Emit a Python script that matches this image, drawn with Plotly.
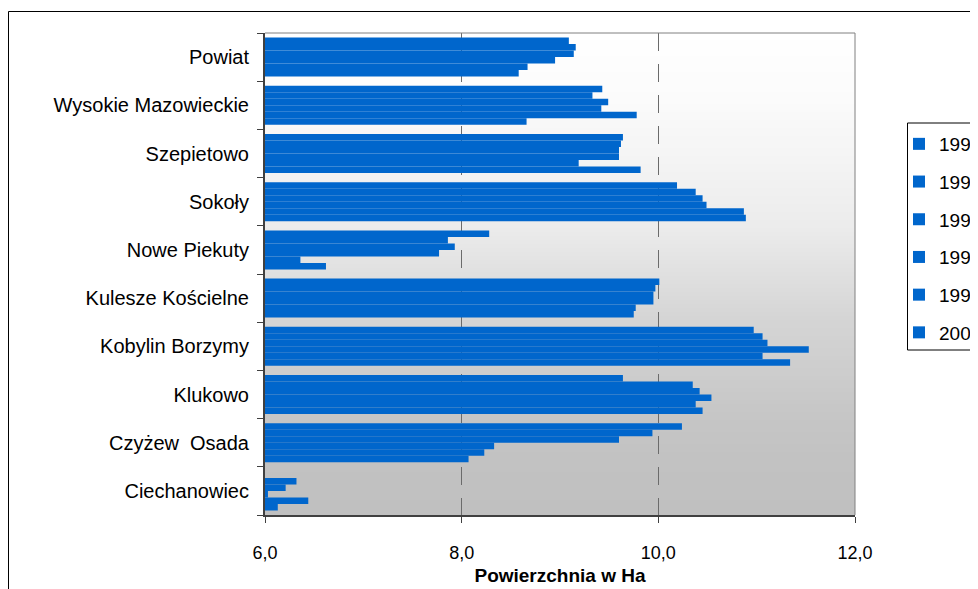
import plotly.graph_objects as go

categories = ["Ciechanowiec", "Czyżew  Osada", "Klukowo", "Kobylin Borzymy", "Kulesze Kościelne",
              "Nowe Piekuty", "Sokoły", "Szepietowo", "Wysokie Mazowieckie", "Powiat"]
years = ["1990", "1992", "1994", "1996", "1998", "2000"]

v1990 = [6.13, 8.07, 10.45, 11.34, 9.75, 6.62, 10.89, 9.82, 8.66, 8.58]
v1992 = [6.44, 8.23, 10.38, 11.06, 9.77, 6.36, 10.87, 9.19, 9.78, 8.67]
v1994 = [6.03, 8.33, 10.54, 11.53, 9.95, 7.77, 10.49, 9.60, 9.42, 8.95]
v1996 = [6.21, 9.60, 10.42, 11.11, 9.95, 7.93, 10.45, 9.60, 9.49, 9.14]
v1998 = [6.32, 9.94, 10.35, 11.06, 9.97, 7.86, 10.38, 9.62, 9.33, 9.16]
v2000 = [5.90, 10.24, 9.64, 10.97, 10.01, 8.28, 10.19, 9.64, 9.43, 9.09]
series = [v1990, v1992, v1994, v1996, v1998, v2000]

x_ticks = [6, 8, 10, 12]
x_ticklabels = ["6,0", "8,0", "10,0", "12,0"]

BAR = "#0066cc"
FONT = "Liberation Sans, Arial, sans-serif"

fig = go.Figure()
for yr, vals in zip(years, series):
    fig.add_trace(go.Bar(
        y=categories, x=vals, name=yr, orientation="h",
        marker=dict(color=BAR, line=dict(width=0)),
        legendgroup=yr,
    ))

# page has an 8px body margin; figure coords = page coords - 8
OFF = 8
W, H = 970, 581
ml, mr, mt, mb = 257, 123, 25, 74
pw = W - ml - mr
ph = H - mt - mb

def px_x(x):  # figure pixel x -> paper
    return (x - ml) / pw

def px_y(y):  # figure pixel y -> paper
    return 1 - (y - mt) / ph

# gradient background (page-y -> gray level)
ctrl = [(33, 255), (100, 251), (178, 242), (225, 236), (270, 225), (313, 214),
        (366, 206), (415, 198), (460, 194), (516, 192)]

def gray_at(py):
    if py <= ctrl[0][0]:
        return ctrl[0][1]
    for (a, ga), (b, gb) in zip(ctrl[:-1], ctrl[1:]):
        if a <= py <= b:
            return ga + (gb - ga) * (py - a) / (b - a)
    return ctrl[-1][1]

shapes = []
step = 4
py = mt
while py < H - mb:
    g = int(round(gray_at(py + OFF + step / 2)))
    y_top = px_y(py)
    y_bot = max(0, px_y(py + step))
    shapes.append(dict(type="rect", xref="paper", yref="paper", x0=0, x1=1,
                       y0=y_bot, y1=min(1, y_top + 0.002), fillcolor=f"rgb({g},{g},{g})",
                       line=dict(width=0), layer="below"))
    py += step

# plot border top and right
shapes.append(dict(type="line", xref="paper", yref="paper", x0=0, x1=1, y0=1, y1=1,
                   line=dict(color="#808080", width=1)))
shapes.append(dict(type="line", xref="paper", yref="paper", x0=1, x1=1, y0=0, y1=1,
                   line=dict(color="#808080", width=1)))
# outer chart frame
shapes.append(dict(type="rect", xref="paper", yref="paper",
                   x0=px_x(8.5 - OFF), x1=px_x(1010),
                   y0=px_y(640), y1=px_y(11.5 - OFF),
                   line=dict(color="black", width=1), fillcolor="rgba(0,0,0,0)"))
# legend box
shapes.append(dict(type="rect", xref="paper", yref="paper",
                   x0=px_x(907.5 - OFF), x1=px_x(1010),
                   y0=px_y(350 - OFF), y1=px_y(123 - OFF),
                   line=dict(color="black", width=1), fillcolor="white", layer="below"))

fig.update_layout(
    width=W, height=H,
    margin=dict(l=ml, r=mr, t=mt, b=mb, autoexpand=False),
    paper_bgcolor="white", plot_bgcolor="rgba(0,0,0,0)",
    barmode="group", bargap=0.19, bargroupgap=0,
    font=dict(family=FONT, color="black", size=18),
    shapes=shapes,
    showlegend=True,
    legend=dict(x=px_x(899 - OFF), y=px_y(125 - OFF), xanchor="left", yanchor="top",
                borderwidth=0, bgcolor="rgba(0,0,0,0)",
                font=dict(size=19, family=FONT), traceorder="grouped",
                tracegroupgap=10, itemwidth=30),
    xaxis=dict(range=[6, 12], tickvals=x_ticks, ticktext=x_ticklabels,
               showgrid=True, gridcolor="#6b6b6b", gridwidth=1.3, griddash="18px,13px",
               zeroline=False, showline=True, linecolor="#404040", linewidth=2,
               ticks="outside", ticklen=6, tickcolor="#404040", tickwidth=1,
               ticklabelstandoff=14, tickfont=dict(size=18),
               title=dict(text="<b>Powierzchnia w Ha</b>", font=dict(size=19), standoff=7)),
    yaxis=dict(type="category", categoryorder="array", categoryarray=categories,
               showgrid=False, zeroline=False, showline=True, linecolor="#404040", linewidth=2,
               ticks="outside", tickson="boundaries", ticklen=6, tickcolor="#404040",
               ticklabelstandoff=10, tickfont=dict(size=20)),
)

fig.write_html("out.html")
